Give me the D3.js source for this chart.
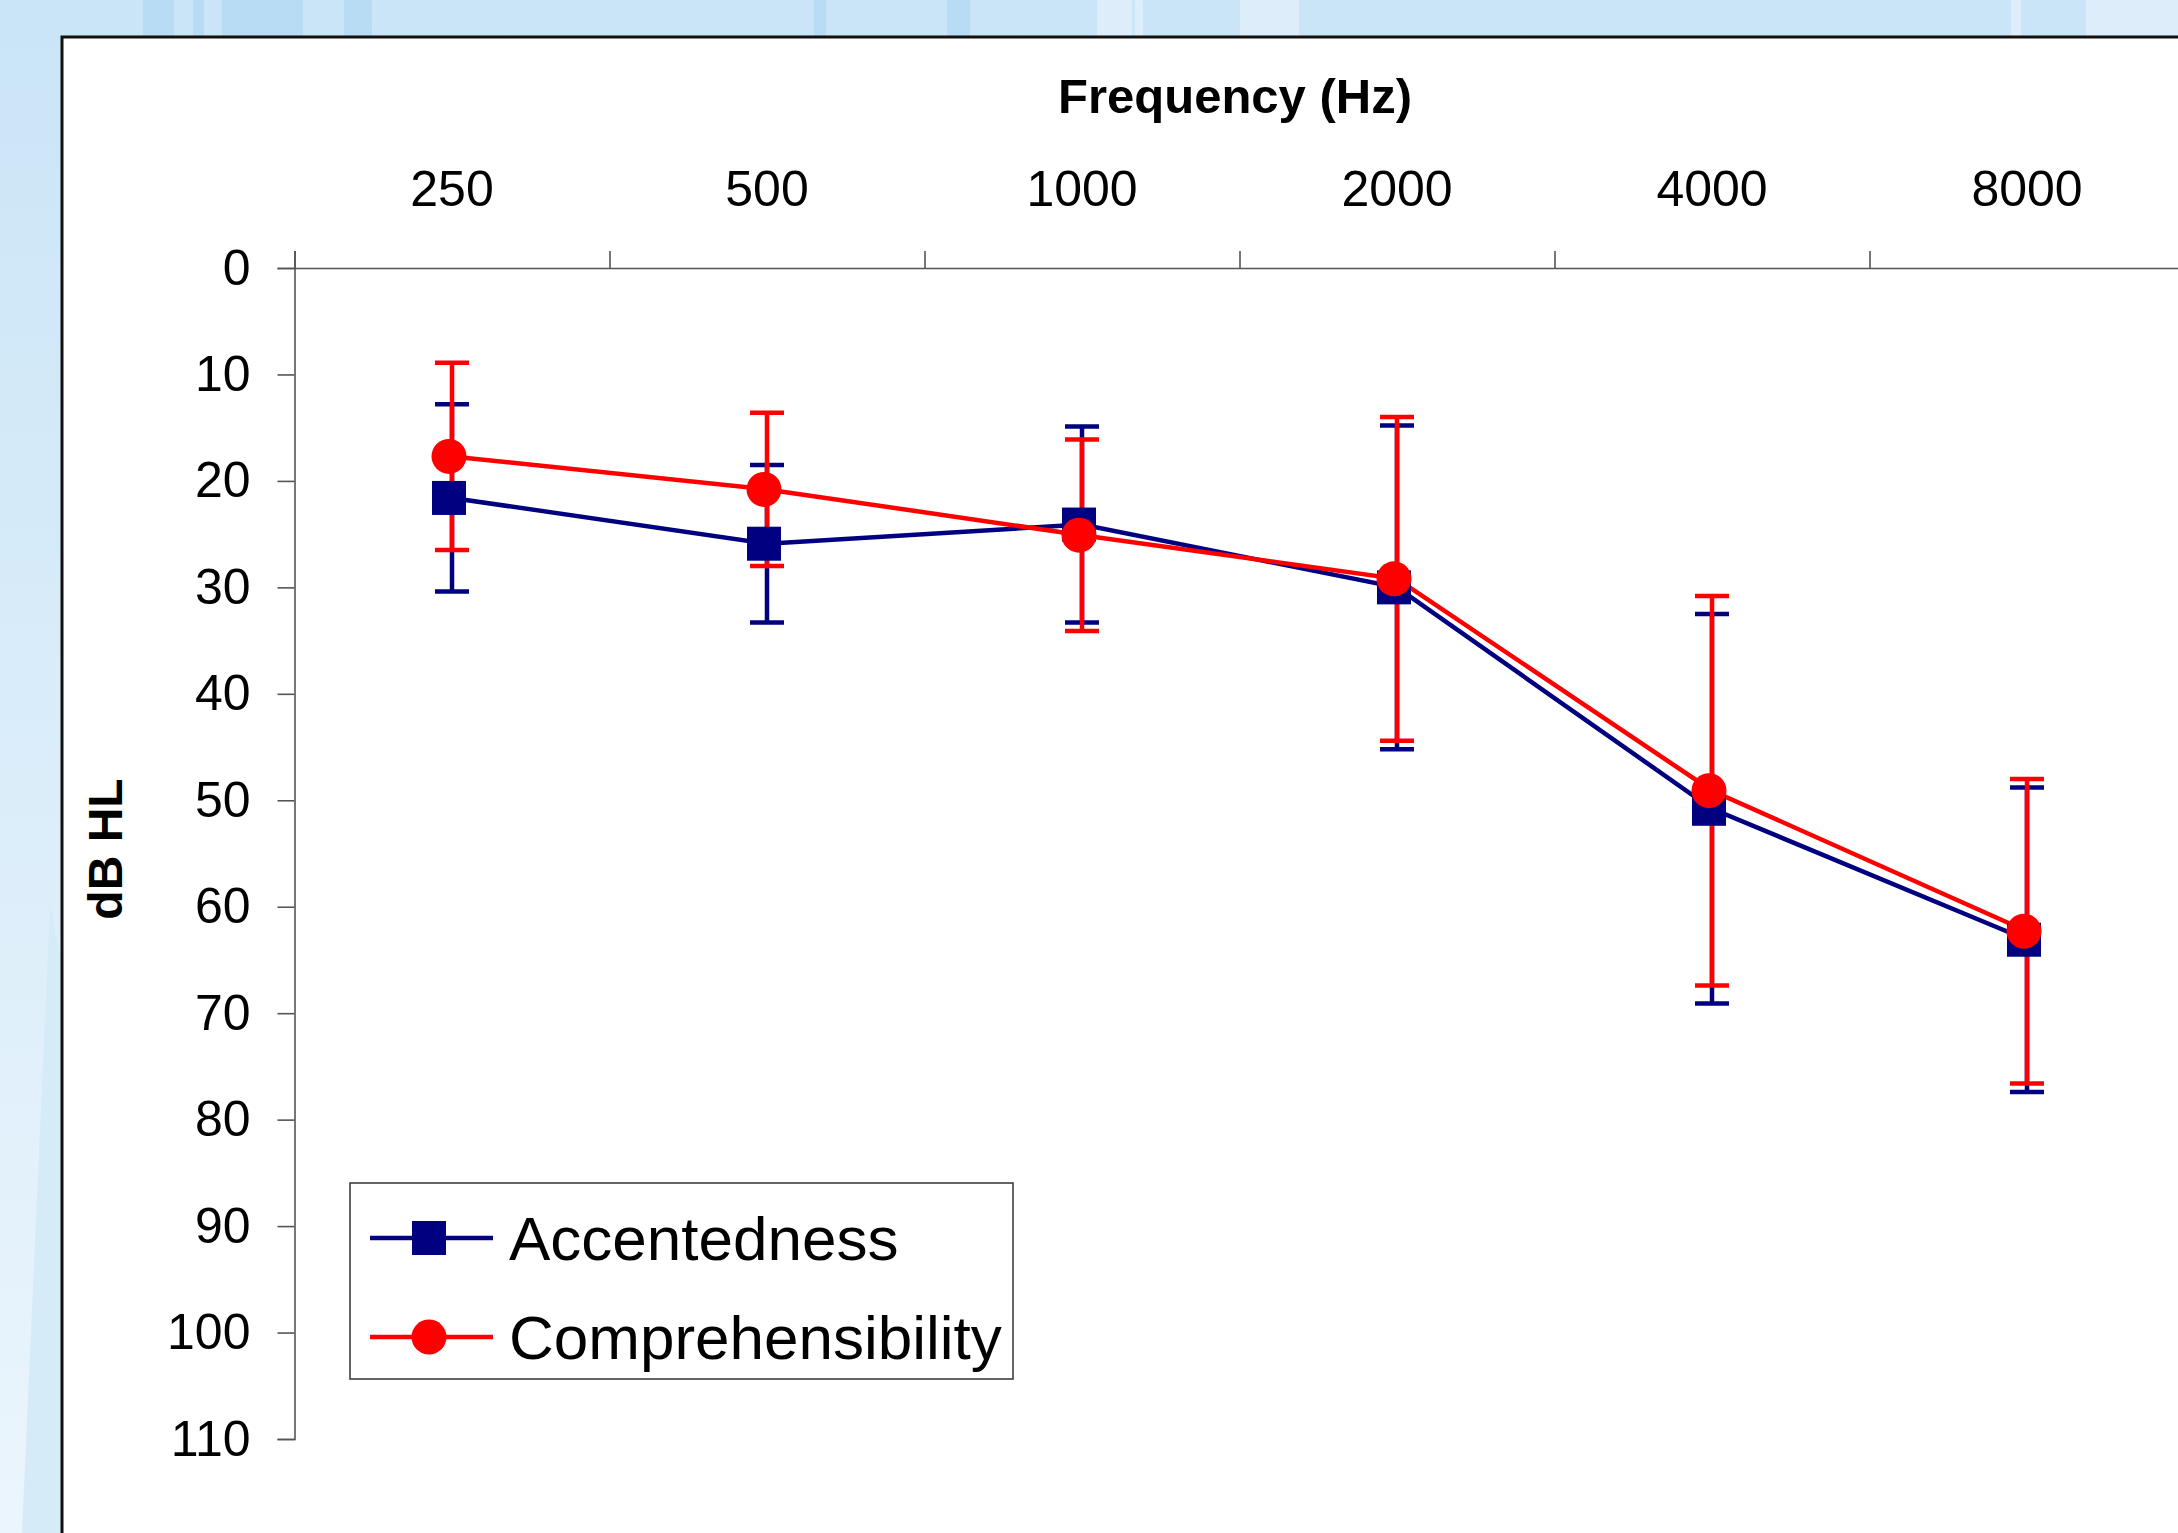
<!DOCTYPE html>
<html>
<head>
<meta charset="utf-8">
<script src="https://cdn.jsdelivr.net/npm/d3@7"></script>
<style>
  html, body { margin: 0; padding: 0; overflow: hidden; }
  text { font-family: "Liberation Sans", Arial, sans-serif; }
</style>
</head>
<body>
<svg id="chart"></svg>
<script>
// audiogram data
const categories = ["250", "500", "1000", "2000", "4000", "8000"];
const accentedness = [21.6, 25.9, 24.1, 30.0, 50.8, 63.1];
const accentednessErr = [8.8, 7.4, 9.2, 15.2, 18.3, 14.3];
const comprehensibility = [17.7, 20.8, 25.1, 29.2, 49.1, 62.3];
const comprehensibilityErr = [8.8, 7.2, 9.0, 15.2, 18.3, 14.3];
const yTicks = [0, 10, 20, 30, 40, 50, 60, 70, 80, 90, 100, 110];

const W = 2178, H = 1533;
const svg = d3.select("#chart").attr("width", W).attr("height", H);

// slide background
const defs = svg.append("defs");
const grad = defs.append("linearGradient").attr("id", "bg").attr("x1", 0).attr("y1", 0).attr("x2", 0).attr("y2", 1);
grad.append("stop").attr("offset", "0%").attr("stop-color", "#cae5f7");
grad.append("stop").attr("offset", "100%").attr("stop-color", "#ebf5fc");
svg.append("rect").attr("width", W).attr("height", H).attr("fill", "url(#bg)");

// streaks along the top edge (decoration)
const streaks = [
  [143, 31, "#b7dcf3"], [193, 11, "#b7dcf3"], [222, 81, "#b7dcf3"], [344, 28, "#b7dcf3"],
  [814, 12, "#b7dcf3"], [947, 23, "#b7dcf3"], [1097, 35, "#ddeefa"], [1135, 8, "#ddeefa"],
  [1240, 59, "#ddeefa"], [2011, 10, "#ddeefa"], [2086, 92, "#ddeefa"]
];
svg.append("g").selectAll("rect").data(streaks).enter().append("rect")
  .attr("x", d => d[0]).attr("y", 0).attr("width", d => d[1]).attr("height", 40)
  .attr("fill", d => d[2]);
// faint triangle bottom left
svg.append("path").attr("d", "M50,905 L22,1533 L61,1533 L61,960 Z").attr("fill", "#d6ebf8");

// white frame of the chart
svg.append("rect").attr("x", 62).attr("y", 37).attr("width", W).attr("height", H)
  .attr("fill", "#fff").attr("stroke", "#111").attr("stroke-width", 3);

const plotLeft = 294.5, plotTop = 268, bandW = 315;
const x = d3.scaleBand().domain(categories).range([plotLeft, plotLeft + bandW * categories.length]);
const xEdge = d3.scaleLinear().domain([0, categories.length]).range([plotLeft, plotLeft + bandW * categories.length]);
const y = d3.scaleLinear().domain([0, 110]).range([plotTop, 1439]);

// y axis
const yAxis = svg.append("g").attr("transform", `translate(${plotLeft},0)`)
  .call(d3.axisLeft(y).tickValues(yTicks).tickSize(17).tickPadding(27));
yAxis.selectAll("text").attr("font-size", 50).attr("fill", "#000").attr("font-family", "Liberation Sans, Arial");

// x axis on top: ticks at boundaries, labels at centres
svg.append("g").attr("transform", `translate(0,${plotTop})`)
  .call(d3.axisTop(xEdge).tickValues(d3.range(categories.length + 1)).tickSize(17).tickFormat(""));
const xLab = svg.append("g").attr("transform", `translate(0,${plotTop})`)
  .call(d3.axisTop(x).tickSize(0).tickPadding(62));
xLab.select(".domain").remove();
xLab.selectAll("text").attr("font-size", 50).attr("fill", "#000").attr("font-family", "Liberation Sans, Arial");

svg.selectAll(".domain, .tick line").attr("stroke", "#555").attr("stroke-width", 1.6);

// axis titles
svg.append("text").attr("x", 1235).attr("y", 113).attr("text-anchor", "middle")
  .attr("font-size", 49).attr("font-weight", "bold").text("Frequency (Hz)");
svg.append("text").attr("transform", "translate(122,849) rotate(-90)").attr("text-anchor", "middle")
  .attr("font-size", 48).attr("font-weight", "bold").text("dB HL");

const series = [
  { name: "Accentedness", values: accentedness, err: accentednessErr, color: "#000080", shape: "square" },
  { name: "Comprehensibility", values: comprehensibility, err: comprehensibilityErr, color: "#ff0000", shape: "circle" }
];
const cx = c => x(c) + x.bandwidth() / 2;
const capW = 34;

// error bars first
series.forEach(s => {
  const g = svg.append("g").attr("stroke", s.color).attr("stroke-width", 4.5);
  categories.forEach((c, i) => {
    const lo = s.values[i] - s.err[i], hi = s.values[i] + s.err[i];
    g.append("line").attr("x1", cx(c)).attr("x2", cx(c)).attr("y1", y(lo)).attr("y2", y(hi));
    g.append("line").attr("x1", cx(c) - capW / 2).attr("x2", cx(c) + capW / 2).attr("y1", y(lo)).attr("y2", y(lo));
    g.append("line").attr("x1", cx(c) - capW / 2).attr("x2", cx(c) + capW / 2).attr("y1", y(hi)).attr("y2", y(hi));
  });
});

// lines
const line = d3.line().x((d, i) => cx(categories[i])).y(d => y(d));
series.forEach(s => {
  svg.append("path").attr("d", line(s.values)).attr("fill", "none")
    .attr("stroke", s.color).attr("stroke-width", 4.5);
});

// markers
function marker(g, shape, color, px, py) {
  if (shape === "square") {
    g.append("rect").attr("x", px - 17).attr("y", py - 17).attr("width", 34).attr("height", 34).attr("fill", color);
  } else {
    g.append("circle").attr("cx", px).attr("cy", py).attr("r", 17.5).attr("fill", color);
  }
}
series.forEach(s => {
  const g = svg.append("g");
  categories.forEach((c, i) => marker(g, s.shape, s.color, cx(c) - 3, y(s.values[i])));
});

// legend
const lg = svg.append("g");
lg.append("rect").attr("x", 350).attr("y", 1183).attr("width", 663).attr("height", 196)
  .attr("fill", "#fff").attr("stroke", "#333").attr("stroke-width", 1.5);
series.forEach((s, i) => {
  const ly = 1238 + i * 99;
  lg.append("line").attr("x1", 370).attr("x2", 493).attr("y1", ly).attr("y2", ly)
    .attr("stroke", s.color).attr("stroke-width", 4.5);
  marker(lg, s.shape, s.color, 429, ly);
  lg.append("text").attr("x", 509).attr("y", ly + 22).attr("font-size", 62).attr("fill", "#000").text(s.name);
});
</script>
</body>
</html>
